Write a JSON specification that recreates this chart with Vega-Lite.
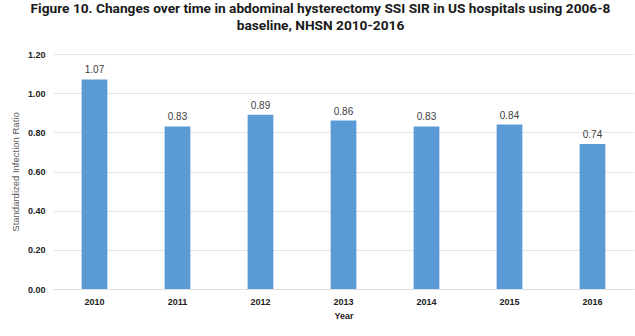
{
  "$schema": "https://vega.github.io/schema/vega-lite/v6.json",
  "width": 581,
  "height": 235,
  "autosize": {"type": "none"},
  "padding": {"left": 53, "top": 54, "right": 1, "bottom": 47},
  "background": "white",
  "title": {
    "text": ["Figure 10. Changes over time in abdominal hysterectomy SSI SIR in US hospitals using 2006-8", "baseline, NHSN 2010-2016"],
    "font": "Roboto",
    "fontSize": 13.7,
    "fontWeight": "bold",
    "color": "#1a1a1a",
    "anchor": "middle",
    "dx": -23,
    "offset": 17,
    "lineHeight": 17
  },
  "data": {
    "values": [
      {"Year": "2010", "SIR": 1.07},
      {"Year": "2011", "SIR": 0.83},
      {"Year": "2012", "SIR": 0.89},
      {"Year": "2013", "SIR": 0.86},
      {"Year": "2014", "SIR": 0.83},
      {"Year": "2015", "SIR": 0.84},
      {"Year": "2016", "SIR": 0.74}
    ]
  },
  "encoding": {
    "x": {
      "field": "Year",
      "type": "nominal",
      "scale": {"paddingInner": 0.69, "paddingOuter": 0.345},
      "axis": {
        "title": "Year",
        "titleFont": "Liberation Sans",
        "titleFontSize": 9,
        "titleFontWeight": "bold",
        "titleColor": "#222222",
        "titlePadding": 5,
        "labelAngle": 0,
        "labelFont": "Liberation Sans",
        "labelFontSize": 9,
        "labelFontWeight": "bold",
        "labelColor": "#222222",
        "labelPadding": 8,
        "ticks": false,
        "domainColor": "#d9d9d9",
        "domainDash": [2, 2],
        "grid": false
      }
    },
    "y": {
      "field": "SIR",
      "type": "quantitative",
      "scale": {"domain": [0, 1.2]},
      "axis": {
        "title": "Standardized Infection Ratio",
        "titleFont": "Liberation Sans",
        "titleFontSize": 9.5,
        "titleFontWeight": "normal",
        "titleColor": "#595959",
        "titlePadding": 7,
        "values": [0, 0.2, 0.4, 0.6, 0.8, 1.0, 1.2],
        "format": ".2f",
        "labelFont": "Liberation Sans",
        "labelFontSize": 9,
        "labelFontWeight": "bold",
        "labelColor": "#222222",
        "labelPadding": 8,
        "ticks": false,
        "domain": false,
        "grid": true,
        "gridColor": "#e3e3e3"
      }
    }
  },
  "layer": [
    {"mark": {"type": "bar", "color": "#5b9bd5"}},
    {
      "mark": {"type": "text", "dy": -9, "font": "Liberation Sans", "fontSize": 10, "color": "#404040"},
      "encoding": {"text": {"field": "SIR", "type": "quantitative", "format": ".2f"}}
    }
  ],
  "config": {"view": {"stroke": null}}
}
